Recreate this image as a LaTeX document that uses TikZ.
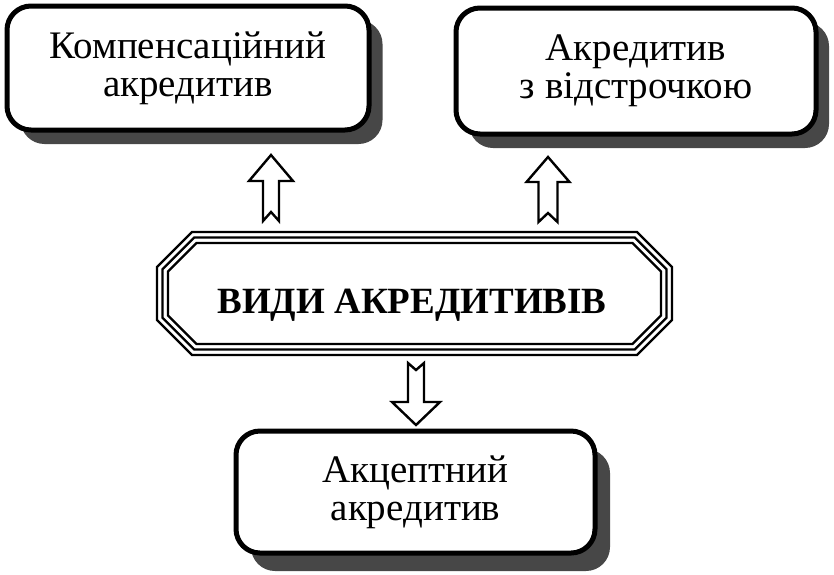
\documentclass[tikz,border=0pt]{standalone}
\usepackage{fontspec}
\setmainfont{Liberation Serif}
\begin{document}
\begin{tikzpicture}[x=1pt,y=-1pt]
\tikzset{
  box/.style={draw=black, line width=5pt, rounded corners=24pt, fill=white,
    align=center, inner sep=0pt, font=\fontsize{39}{38}\selectfont},
  octline/.style={draw=black, line width=2.3pt, line join=miter},
  blockarr/.style={draw=black, line width=2.4pt, fill=white, line join=miter},
  shadowfill/.style={fill=black!72}
}
\useasboundingbox (0,0) rectangle (834,574);
% shadows
\fill[shadowfill, rounded corners=24pt] (7+13.5,6+14) rectangle (369+13.5,130+14);
\fill[shadowfill, rounded corners=24pt] (456+13,8+14) rectangle (816+13,134+14);
\fill[shadowfill, rounded corners=24pt] (236+15,431+18) rectangle (595+15,553+18);
% boxes
\node[box, minimum width=362pt, minimum height=124pt] (tl) at (188,68)
  {Компенсаційний\\акредитив};
\node[box, minimum width=360pt, minimum height=126pt] (tr) at (636,71)
  {Акредитив\\з відстрочкою};
\node[box, minimum width=359pt, minimum height=122pt] (bt) at (415.5,492)
  {Акцептний\\акредитив};
% octagon
\newcommand\octo[5]{\draw[octline] (#1+#5,#2) -- (#3-#5,#2) -- (#3,#2+#5) -- (#3,#4-#5) -- (#3-#5,#4) -- (#1+#5,#4) -- (#1,#4-#5) -- (#1,#2+#5) -- cycle;}
\octo{157}{232}{672}{355}{35}
\octo{162.5}{237.5}{666.5}{349.5}{31.8}
\octo{168}{243}{661}{344}{28.6}
\node[anchor=base, inner sep=0pt, font=\bfseries\fontsize{37}{40}\selectfont] (main) at (412,313) {ВИДИ АКРЕДИТИВІВ};
% block arrows
\coordinate (a1) at (271,155);
\coordinate (a2) at (548,157);
\coordinate (a3) at (416,425);
\draw[blockarr] (a1) -- ++(22,26) -- ++(-14,0) -- ++(0,40) -- ++(-8,-9) -- ++(-8,9) -- ++(0,-40) -- ++(-14,0) -- cycle;
\draw[blockarr] (a2) -- ++(21.5,25) -- ++(-12,0) -- ++(0,40) -- ++(-9.5,-9) -- ++(-9.5,9) -- ++(0,-40) -- ++(-12,0) -- cycle;
\draw[blockarr] (a3) -- ++(24,-23) -- ++(-16,0) -- ++(0,-39) -- ++(-8,7) -- ++(-8,-7) -- ++(0,39) -- ++(-16,0) -- cycle;
\end{tikzpicture}
\end{document}
